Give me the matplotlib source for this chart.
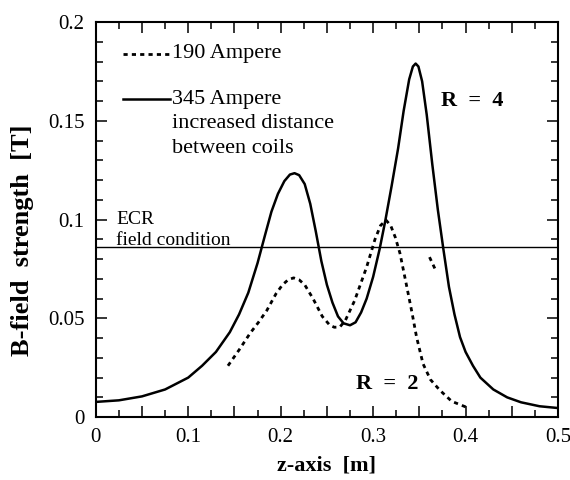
# B-field along z-axis, 190 A vs 345 A coils

import numpy as np
import matplotlib.pyplot as plt
from matplotlib.ticker import MultipleLocator, FuncFormatter

plt.rcParams['font.family'] = ['Liberation Serif', 'DejaVu Serif']

# 345 Ampere, increased distance between coils (solid)
z_345 = [0.000, 0.025, 0.050, 0.075, 0.100, 0.115, 0.130, 0.145, 0.155, 0.165,
         0.175, 0.183, 0.190, 0.197, 0.204, 0.210, 0.215, 0.220, 0.226, 0.232,
         0.238, 0.244, 0.250, 0.256, 0.262, 0.268, 0.275, 0.281, 0.287, 0.293,
         0.300, 0.307, 0.313, 0.320, 0.327, 0.333, 0.339, 0.343, 0.346, 0.349,
         0.353, 0.358, 0.364, 0.370, 0.376, 0.382, 0.388, 0.394, 0.400, 0.408,
         0.416, 0.430, 0.445, 0.460, 0.480, 0.500]
b_345 = [0.0077, 0.0085, 0.0105, 0.014, 0.020, 0.026, 0.033, 0.043, 0.052, 0.063,
         0.078, 0.092, 0.104, 0.113, 0.1195, 0.1228, 0.1235, 0.1225, 0.118, 0.108,
         0.094, 0.079, 0.067, 0.058, 0.051, 0.0475, 0.0465, 0.048, 0.053, 0.060,
         0.071, 0.085, 0.099, 0.117, 0.136, 0.155, 0.171, 0.1775, 0.179, 0.1775,
         0.170, 0.153, 0.128, 0.105, 0.085, 0.066, 0.052, 0.0405, 0.033, 0.026,
         0.020, 0.014, 0.010, 0.0075, 0.0055, 0.0046]

# 190 Ampere (dotted)
z_190 = [0.143, 0.155, 0.167, 0.176, 0.185, 0.195, 0.202, 0.208, 0.214, 0.220,
         0.226, 0.235, 0.245, 0.253, 0.258, 0.264, 0.270, 0.280, 0.293, 0.302,
         0.308, 0.314, 0.319, 0.324, 0.329, 0.336, 0.342, 0.347, 0.354, 0.362,
         0.372, 0.385, 0.401]
b_190 = [0.026, 0.034, 0.0425, 0.048, 0.054, 0.0625, 0.067, 0.0695, 0.0705, 0.0695,
         0.067, 0.060, 0.051, 0.0466, 0.0455, 0.0456, 0.049, 0.059, 0.076, 0.090,
         0.097, 0.0997, 0.097, 0.091, 0.083, 0.067, 0.053, 0.0405, 0.027, 0.019,
         0.0137, 0.008, 0.005]

# short stray dotted piece right of the big peak
z_frag = [0.361, 0.367]
b_frag = [0.081, 0.075]

ecr_b = 0.086

fig = plt.figure(figsize=(5.7, 4.8), dpi=100)
ax = fig.add_axes([0.168, 0.131, 0.811, 0.823])

ax.plot(z_345, b_345, color='black', lw=1.8)
ax.plot(z_190, b_190, color='black', lw=2.0, linestyle=(0, (1.5, 1.5)))
ax.plot(z_frag, b_frag, color='black', lw=2.0, linestyle=(0, (1.5, 1.5)))
ax.axhline(ecr_b, color='black', lw=1.0)

ax.set_xlim(0, 0.5)
ax.set_ylim(0, 0.2)

ax.xaxis.set_major_locator(MultipleLocator(0.05))
ax.xaxis.set_minor_locator(MultipleLocator(0.025))
ax.yaxis.set_major_locator(MultipleLocator(0.05))
ax.yaxis.set_minor_locator(MultipleLocator(0.01))

def xfmt(v, pos):
    if abs(round(v * 10) - v * 10) < 1e-6:
        return '%g' % round(v, 2)
    return ''

ax.xaxis.set_major_formatter(FuncFormatter(xfmt))
ax.yaxis.set_major_formatter(FuncFormatter(lambda v, p: '%g' % round(v, 3)))

ax.tick_params(which='both', direction='in', top=True, right=True, labelsize=15, width=1.1)
ax.tick_params(which='major', length=8, pad=8)
ax.tick_params(which='minor', length=5)
for s in ax.spines.values():
    s.set_linewidth(1.5)

ax.set_xlabel('z-axis  [m]', fontsize=16, fontweight='bold', labelpad=6)
fig.text(0.040, 0.50, 'B-field  strength  [T]', fontsize=19, fontweight='bold',
         rotation=90, ha='center', va='center')

# legend drawn by hand
ax.plot([0.029, 0.080], [0.184, 0.184], color='black', lw=2.0, linestyle=(0, (1.5, 1.5)))
ax.text(0.083, 0.184, '190 Ampere', fontsize=16, va='center')
ax.plot([0.029, 0.080], [0.161, 0.161], color='black', lw=1.8)
ax.text(0.083, 0.161, '345 Ampere', fontsize=16, va='center')
ax.text(0.083, 0.1485, 'increased distance', fontsize=16, va='center')
ax.text(0.083, 0.136, 'between coils', fontsize=16, va='center')

ax.text(0.373, 0.160, 'R  =  4', fontsize=16, fontweight='bold', va='center')
ax.text(0.281, 0.017, 'R  =  2', fontsize=16, fontweight='bold', va='center')

ax.text(0.022, 0.100, 'ECR', fontsize=14, va='center')
ax.text(0.022, 0.0895, 'field condition', fontsize=14, va='center')

fig.savefig('out.png', dpi=100)
